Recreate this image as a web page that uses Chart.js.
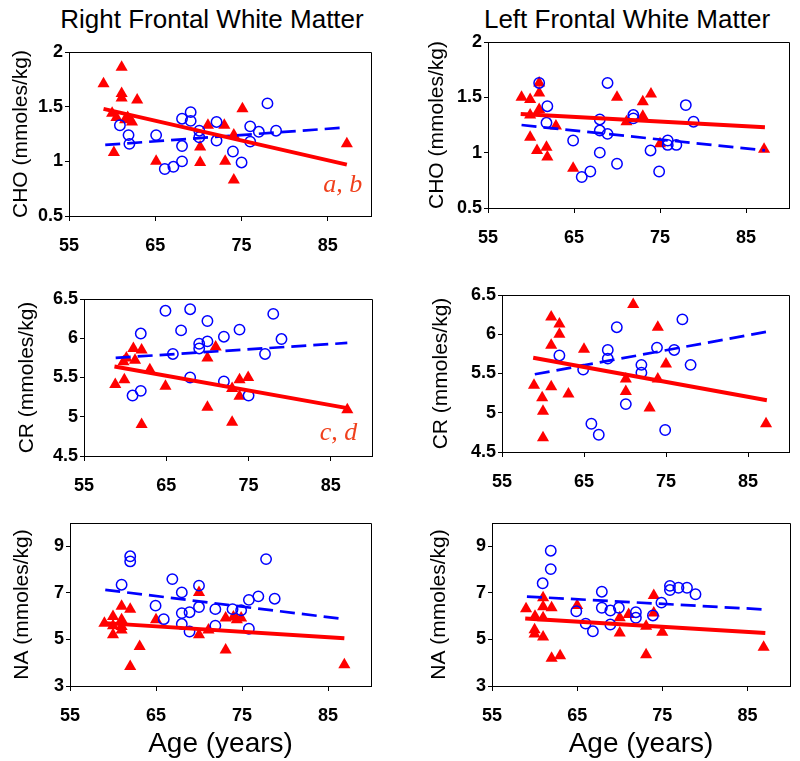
<!DOCTYPE html>
<html>
<head>
<meta charset="utf-8">
<script src="https://cdn.jsdelivr.net/npm/chart.js@4.4.1/dist/chart.umd.min.js"></script>
<style>
  body { margin: 0; background: #fff; }
  #wrap { position: relative; width: 800px; height: 761px; overflow: hidden; background: #fff; }
  #wrap canvas { position: absolute; }
  .col-title {
    position: absolute; top: 4px; width: 400px; margin-left: -200px; text-align: center;
    font: 26px 'Liberation Sans', Arial, sans-serif; line-height: 30px; color: #000;
    white-space: nowrap;
  }
</style>
</head>
<body>
<div id="wrap">
  <div class="col-title" style="left:212px">Right Frontal White Matter</div>
  <div class="col-title" style="left:627px">Left Frontal White Matter</div>
</div>
<script>
// ticks
const ageTicks = [55, 65, 75, 85]
const choTicks = [0.5, 1, 1.5, 2]
const crTicks = [4.5, 5, 5.5, 6, 6.5]
const naTicks = [3, 5, 7, 9]

// Right frontal CHO
const rChoTriAge = [59.0, 61.1, 61.1, 61.1, 62.9, 60.0, 60.5, 61.5, 61.8, 62.3, 60.2, 65.1, 70.2, 70.2, 71.1, 73.0, 73.1, 74.1, 74.1, 75.1, 87.2]
const rChoTriVal = [1.71, 1.86, 1.62, 1.58, 1.56, 1.44, 1.40, 1.38, 1.40, 1.36, 1.08, 1.00, 1.13, 0.99, 1.33, 1.33, 1.00, 0.83, 1.24, 1.48, 1.16]
const rChoCirAge = [60.9, 61.9, 62.0, 65.1, 66.1, 67.1, 68.1, 68.1, 68.1, 69.1, 69.1, 70.1, 70.1, 72.1, 72.1, 74.0, 75.0, 76.0, 76.0, 77.0, 78.0, 79.0]
const rChoCirVal = [1.33, 1.24, 1.16, 1.24, 0.93, 0.95, 1.00, 1.14, 1.39, 1.45, 1.37, 1.28, 1.22, 1.36, 1.19, 1.09, 0.99, 1.32, 1.18, 1.27, 1.53, 1.28]
const rChoFitTri = [[59.0, 1.48], [87.2, 0.97]]
const rChoFitCir = [[59.2, 1.15], [87.1, 1.31]]

// Left frontal CHO
const lChoTriAge = [58.9, 59.9, 59.9, 59.9, 60.95, 60.95, 60.95, 60.7, 61.8, 61.9, 62.9, 64.9, 70.0, 71.1, 73.0, 73.0, 73.95, 75.0, 87.1]
const lChoTriVal = [1.50, 1.48, 1.34, 1.14, 1.63, 1.54, 1.39, 1.02, 1.05, 0.96, 1.24, 0.86, 1.50, 1.28, 1.46, 1.33, 1.53, 1.08, 1.03]
const lChoCirAge = [60.95, 61.9, 61.8, 64.9, 65.9, 66.9, 68.0, 68.0, 68.0, 68.9, 68.9, 70.0, 71.9, 71.9, 73.9, 74.9, 75.9, 75.9, 76.9, 78.0, 78.9]
const lChoCirVal = [1.63, 1.42, 1.27, 1.11, 0.78, 0.83, 1.30, 1.20, 1.00, 1.63, 1.17, 0.90, 1.34, 1.31, 1.02, 0.83, 1.11, 1.07, 1.07, 1.43, 1.28]
const lChoFitTri = [[58.8, 1.35], [87.2, 1.23]]
const lChoFitCir = [[58.9, 1.25], [87.2, 1.02]]

// Right frontal CR
const rCrTriAge = [58.8, 59.9, 59.8, 60.15, 61.0, 61.2, 62.0, 62.0, 63.0, 64.9, 70.0, 70.0, 71.0, 73.0, 73.0, 73.9, 73.9, 74.95, 87.0]
const rCrTriVal = [5.41, 5.47, 5.70, 5.75, 5.87, 5.72, 5.85, 4.90, 5.60, 5.39, 5.75, 5.12, 5.89, 4.93, 5.36, 5.47, 5.26, 5.50, 5.09]
const rCrCirAge = [60.9, 61.9, 61.9, 64.9, 66.8, 65.8, 67.9, 67.9, 69.0, 69.0, 70.0, 70.0, 72.0, 72.0, 73.9, 75.0, 77.0, 78.0, 79.0]
const rCrCirVal = [5.27, 5.33, 6.06, 6.35, 6.10, 5.80, 6.37, 5.50, 5.93, 5.87, 6.22, 5.96, 6.02, 5.45, 6.11, 5.27, 5.80, 6.31, 5.99]
const rCrFitTri = [[58.7, 5.64], [87.0, 5.11]]
const rCrFitCir = [[58.85, 5.75], [87.0, 5.94]]

// Left frontal CR
const lCrTriAge = [58.9, 61.0, 62.0, 62.0, 61.0, 61.0, 59.9, 60.0, 60.0, 63.1, 65.0, 70.1, 70.1, 71.0, 73.0, 74.0, 74.0, 75.0, 87.2]
const lCrTriVal = [5.35, 6.22, 6.13, 6.00, 5.86, 5.33, 5.19, 5.02, 4.68, 5.24, 5.81, 5.43, 5.27, 6.38, 5.06, 6.09, 5.43, 5.62, 4.86]
const lCrCirAge = [62.0, 64.9, 65.9, 66.8, 67.9, 67.9, 69.0, 70.1, 72.0, 72.0, 73.9, 74.9, 76.0, 77.0, 78.0]
const lCrCirVal = [5.73, 5.55, 4.86, 4.72, 5.80, 5.69, 6.09, 5.11, 5.61, 5.51, 5.83, 4.78, 5.80, 6.19, 5.61]
const lCrFitTri = [[58.8, 5.70], [87.3, 5.16]]
const lCrFitCir = [[59.0, 5.49], [87.2, 6.03]]

// Right frontal NA
const rNaTriAge = [59.0, 60.0, 60.0, 60.0, 61.0, 61.0, 61.0, 61.0, 62.0, 62.0, 63.1, 65.0, 70.0, 70.0, 71.1, 73.1, 73.1, 74.0, 74.4, 74.9, 86.9]
const rNaTriVal = [5.70, 5.99, 5.20, 5.59, 6.42, 5.84, 5.56, 5.41, 6.30, 3.84, 4.70, 5.84, 7.02, 5.20, 5.41, 5.92, 4.55, 5.96, 5.84, 5.92, 3.91]
const rNaCirAge = [61.0, 62.0, 62.0, 64.95, 65.9, 66.9, 68.0, 68.0, 68.0, 68.9, 68.9, 70.0, 70.0, 71.9, 71.9, 73.9, 74.9, 75.8, 75.8, 76.9, 77.8, 78.8]
const rNaCirVal = [7.35, 8.57, 8.35, 6.45, 5.87, 7.59, 7.02, 6.13, 5.66, 6.17, 5.34, 7.31, 6.39, 6.30, 5.59, 6.30, 6.25, 6.70, 5.46, 6.85, 8.45, 6.75]
const rNaFitTri = [[59.1, 5.70], [86.9, 5.05]]
const rNaFitCir = [[59.1, 7.13], [86.9, 5.87]]

// Left frontal NA
const lNaTriAge = [59.0, 60.05, 60.0, 60.0, 61.0, 61.0, 61.0, 61.0, 62.0, 62.0, 63.0, 65.0, 70.0, 70.0, 71.05, 73.1, 73.1, 74.0, 74.0, 75.0, 86.9]
const lNaTriVal = [6.32, 6.00, 5.42, 5.23, 6.79, 6.40, 5.93, 5.10, 6.36, 4.19, 4.30, 6.46, 5.93, 5.28, 6.07, 5.57, 4.34, 6.89, 6.14, 5.31, 4.66]
const lNaCirAge = [60.95, 61.9, 61.9, 64.9, 66.0, 66.85, 67.9, 67.9, 68.9, 68.9, 69.9, 71.9, 71.9, 73.9, 74.9, 75.9, 75.9, 76.9, 77.9, 78.9]
const lNaCirVal = [7.41, 8.81, 8.02, 6.21, 5.68, 5.35, 7.05, 6.36, 6.24, 5.64, 6.36, 6.17, 5.93, 6.03, 6.58, 7.30, 7.12, 7.22, 7.22, 6.94]
const lNaFitTri = [[58.9, 5.90], [87.1, 5.28]]
const lNaFitCir = [[59.1, 6.84], [86.9, 6.29]]

const RED = '#ff0000'
const BLUE = '#0000ff'
const NOTE = '#f0401c'

Chart.defaults.font.family = "'Liberation Sans', Arial, sans-serif"
Chart.defaults.color = '#000'

const wrap = document.getElementById('wrap')
const pairs = (xs, ys) => xs.map((x, i) => ({ x, y: ys[i] }))
const fit = (pts) => pts.map(p => ({ x: p[0], y: p[1] }))

// marco arriba y a la derecha
const frame = {
  id: 'frame',
  afterDraw(chart) {
    const { ctx, chartArea: a } = chart
    ctx.save()
    ctx.strokeStyle = '#000'
    ctx.lineWidth = 1
    ctx.beginPath()
    ctx.moveTo(Math.round(a.left) + 0.5, Math.round(a.top) + 0.5)
    ctx.lineTo(Math.round(a.right) + 0.5, Math.round(a.top) + 0.5)
    ctx.lineTo(Math.round(a.right) + 0.5, Math.round(a.bottom) + 0.5)
    ctx.stroke()
    ctx.restore()
  }
}

const note = {
  id: 'note',
  afterDatasetsDraw(chart, args, opts) {
    if (!opts.text) return
    const { ctx, scales } = chart
    ctx.save()
    ctx.fillStyle = NOTE
    ctx.font = "italic 26px 'Liberation Serif', 'Times New Roman', serif"
    ctx.textAlign = 'right'
    ctx.textBaseline = 'alphabetic'
    ctx.fillText(opts.text, scales.x.getPixelForValue(opts.x), scales.y.getPixelForValue(opts.y))
    ctx.restore()
  }
}

function panel(box, p) {
  const canvas = document.createElement('canvas')
  canvas.width = box.w
  canvas.height = box.h
  canvas.style.left = box.x + 'px'
  canvas.style.top = box.y + 'px'
  wrap.appendChild(canvas)

  new Chart(canvas, {
    type: 'scatter',
    data: {
      datasets: [
        { data: pairs(p.triAge, p.triVal), pointStyle: 'triangle', pointRadius: 7, backgroundColor: RED, borderColor: RED, borderWidth: 0, order: 3 },
        { data: pairs(p.cirAge, p.cirVal), pointStyle: 'circle', pointRadius: 5.2, backgroundColor: 'transparent', borderColor: BLUE, borderWidth: 1.5, order: 2 },
        { type: 'line', data: fit(p.fitCir), borderColor: BLUE, borderWidth: 2.7, borderDash: [15, 7], pointRadius: 0, fill: false, order: 1 },
        { type: 'line', data: fit(p.fitTri), borderColor: RED, borderWidth: 4, pointRadius: 0, fill: false, order: 0 }
      ]
    },
    options: {
      responsive: false,
      animation: false,
      devicePixelRatio: 1,
      layout: { padding: { top: box.padTop, right: box.padRight, left: 0, bottom: 0 } },
      plugins: { legend: { display: false }, tooltip: { enabled: false }, note: p.note || {} },
      scales: {
        x: {
          type: 'linear', min: 55, max: 90,
          afterBuildTicks: s => { s.ticks = ageTicks.map(v => ({ value: v })) },
          afterFit: s => { s.height = box.xAxisH },
          ticks: { font: { size: 18, weight: 'bold' }, padding: 14, maxRotation: 0, autoSkip: false, callback: v => String(v) },
          grid: { drawOnChartArea: false, tickLength: 5, color: '#000' },
          border: { color: '#000' },
          title: { display: !!p.xTitle, text: 'Age (years)', font: { size: 28 }, padding: 0 }
        },
        y: {
          type: 'linear', min: p.yTicks[0], max: p.yMax,
          afterBuildTicks: s => { s.ticks = p.yTicks.map(v => ({ value: v })) },
          afterFit: s => { s.width = box.yAxisW },
          ticks: { font: { size: 18, weight: 'bold' }, padding: 2, autoSkip: false, callback: v => String(v) },
          grid: { drawOnChartArea: false, tickLength: 4, color: '#000' },
          border: { color: '#000' },
          title: { display: true, text: p.yTitle, font: { size: 21 }, padding: 0 }
        }
      }
    },
    plugins: [frame, note]
  })
}

panel({ x: 9, y: 30, w: 372, h: 230, yAxisW: 60, xAxisH: 44, padTop: 22, padRight: 10 }, {
  triAge: rChoTriAge, triVal: rChoTriVal, cirAge: rChoCirAge, cirVal: rChoCirVal,
  fitTri: rChoFitTri, fitCir: rChoFitCir, yTicks: choTicks, yMax: 2, yTitle: 'CHO (mmoles/kg)',
  note: { text: 'a, b', x: 89, y: 0.72 }
})
panel({ x: 425, y: 25, w: 374, h: 227, yAxisW: 63, xAxisH: 44, padTop: 17, padRight: 10 }, {
  triAge: lChoTriAge, triVal: lChoTriVal, cirAge: lChoCirAge, cirVal: lChoCirVal,
  fitTri: lChoFitTri, fitCir: lChoFitCir, yTicks: choTicks, yMax: 2, yTitle: 'CHO (mmoles/kg)'
})
panel({ x: 15, y: 280, w: 367, h: 220, yAxisW: 69, xAxisH: 44, padTop: 19, padRight: 10 }, {
  triAge: rCrTriAge, triVal: rCrTriVal, cirAge: rCrCirAge, cirVal: rCrCirVal,
  fitTri: rCrFitTri, fitCir: rCrFitCir, yTicks: crTicks, yMax: 6.5, yTitle: 'CR (mmoles/kg)',
  note: { text: 'c, d', x: 88.2, y: 4.7 }
})
panel({ x: 429, y: 278, w: 370, h: 218, yAxisW: 73, xAxisH: 44, padTop: 17, padRight: 10 }, {
  triAge: lCrTriAge, triVal: lCrTriVal, cirAge: lCrCirAge, cirVal: lCrCirVal,
  fitTri: lCrFitTri, fitCir: lCrFitCir, yTicks: crTicks, yMax: 6.5, yTitle: 'CR (mmoles/kg)'
})
panel({ x: 10, y: 505, w: 371, h: 256, yAxisW: 60, xAxisH: 75, padTop: 18, padRight: 10 }, {
  triAge: rNaTriAge, triVal: rNaTriVal, cirAge: rNaCirAge, cirVal: rNaCirVal,
  fitTri: rNaFitTri, fitCir: rNaFitCir, yTicks: naTicks, yMax: 10, yTitle: 'NA (mmoles/kg)', xTitle: true
})
panel({ x: 427, y: 505, w: 373, h: 256, yAxisW: 65, xAxisH: 75, padTop: 18, padRight: 10 }, {
  triAge: lNaTriAge, triVal: lNaTriVal, cirAge: lNaCirAge, cirVal: lNaCirVal,
  fitTri: lNaFitTri, fitCir: lNaFitCir, yTicks: naTicks, yMax: 10, yTitle: 'NA (mmoles/kg)', xTitle: true
})
</script>
</body>
</html>
